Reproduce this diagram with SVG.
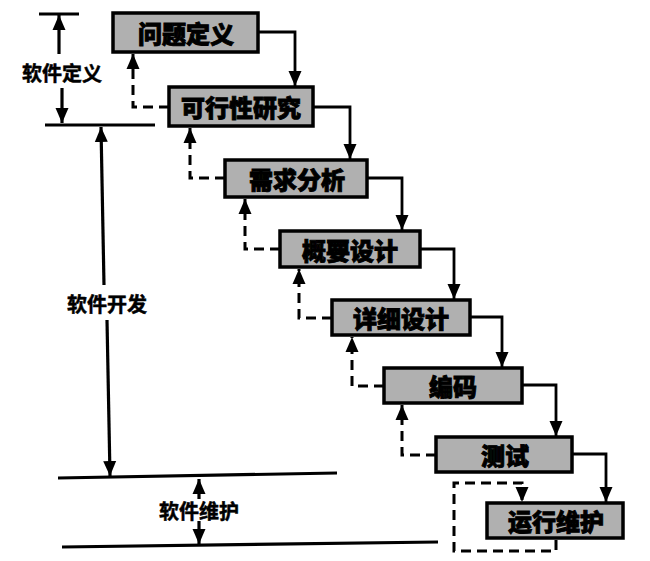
<svg xmlns="http://www.w3.org/2000/svg" width="650" height="561" viewBox="0 0 650 561">
<style>
.box{fill:#b0b0b0;stroke:#000;stroke-width:3.5}
.bt{font-family:"Noto Sans CJK SC","Noto Sans",sans-serif;font-weight:900;font-size:24px;fill:#000;stroke:#000;stroke-width:0.9;text-anchor:middle;dominant-baseline:central}
.lt{font-family:"Noto Sans CJK SC","Noto Sans",sans-serif;font-weight:700;font-size:20px;fill:#000;stroke:#000;stroke-width:0.5;text-anchor:middle;dominant-baseline:central}
.c{fill:none;stroke:#000;stroke-width:2.8;marker-end:url(#ah)}
.d{fill:none;stroke:#000;stroke-width:3;stroke-dasharray:10 6;marker-end:url(#ah)}
.ln{fill:none;stroke:#000;stroke-width:3.2}
.la{fill:none;stroke:#000;stroke-width:3.2;marker-end:url(#ah)}
</style>
<defs>
<marker id="ah" markerUnits="userSpaceOnUse" markerWidth="16" markerHeight="16" viewBox="0 0 16 16" refX="15" refY="8" orient="auto">
<path d="M0,1.5 L15,8 L0,14.5 Z" fill="#000" stroke="none"/>
</marker>
</defs>
<rect width="650" height="561" fill="#fff"/>
<g id="connectors">
<path class="c" d="M258,32 H295 V86"/>
<path class="c" d="M313,107 H350 V159"/>
<path class="c" d="M367,178 H402 V230"/>
<path class="c" d="M420,249 H454 V299"/>
<path class="c" d="M470,317 H502 V367"/>
<path class="c" d="M522,385 H556 V436"/>
<path class="c" d="M572,454 H606 V502"/>
<path class="d" d="M169,107 H133 V54"/>
<path class="d" d="M225,178 H190 V128"/>
<path class="d" d="M280,249 H245 V199"/>
<path class="d" d="M332,318 H299 V269"/>
<path class="d" d="M384,386 H352 V337"/>
<path class="d" d="M436,455 H402 V405"/>
<path class="d" d="M556,540 V551 H454 V483 H522 V502"/>
</g>
<g id="n1"><rect class="box" x="113" y="13" width="145" height="39"/><text class="bt" x="186" y="32">问题定义</text></g>
<g id="n2"><rect class="box" x="169" y="87" width="144" height="39"/><text class="bt" x="241" y="106">可行性研究</text></g>
<g id="n3"><rect class="box" x="225" y="160" width="142" height="37"/><text class="bt" x="297" y="178">需求分析</text></g>
<g id="n4"><rect class="box" x="280" y="231" width="140" height="36"/><text class="bt" x="350" y="249">概要设计</text></g>
<g id="n5"><rect class="box" x="332" y="300" width="138" height="35"/><text class="bt" x="401" y="317">详细设计</text></g>
<g id="n6"><rect class="box" x="384" y="368" width="138" height="35"/><text class="bt" x="453" y="385">编码</text></g>
<g id="n7"><rect class="box" x="436" y="437" width="136" height="35"/><text class="bt" x="505" y="454">测试</text></g>
<g id="n8"><rect class="box" x="487" y="503" width="136" height="35"/><text class="bt" x="556" y="520">运行维护</text></g>
<g id="phases">
<line class="ln" x1="39" y1="14" x2="79" y2="14"/>
<line class="la" x1="59" y1="54" x2="59" y2="15"/>
<text class="lt" x="62" y="72">软件定义</text>
<line class="la" x1="62" y1="88" x2="62" y2="123"/>
<line class="ln" x1="45" y1="125" x2="155" y2="125"/>
<line class="la" x1="104" y1="285" x2="101" y2="127"/>
<text class="lt" x="107" y="303">软件开发</text>
<line class="la" x1="107" y1="320" x2="110" y2="476"/>
<line class="ln" x1="58" y1="478" x2="337" y2="473"/>
<line class="la" x1="199" y1="499" x2="199" y2="479"/>
<text class="lt" x="199" y="510">软件维护</text>
<line class="la" x1="199" y1="521" x2="199" y2="544"/>
<line class="ln" x1="62" y1="547" x2="438" y2="542"/>
</g>
</svg>
